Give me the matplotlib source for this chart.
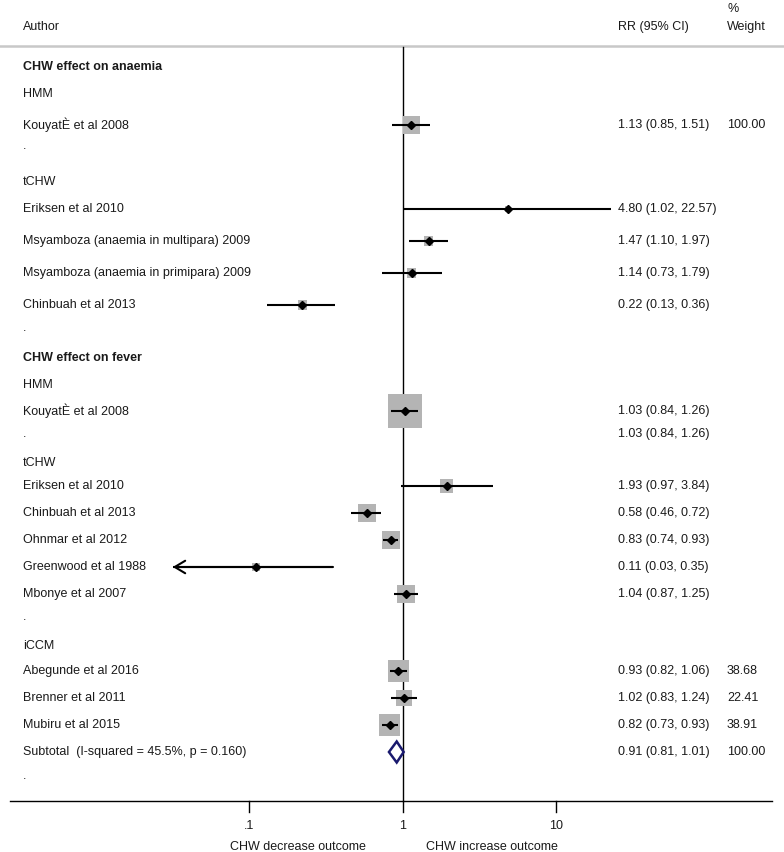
import numpy as np
import matplotlib.pyplot as plt

plt.rcParams['font.family'] = ['Liberation Sans', 'DejaVu Sans']

# study rows: label, RR, lower, upper
labels = ['KouyatÈ et al 2008', 'Eriksen et al 2010',
          'Msyamboza (anaemia in multipara) 2009',
          'Msyamboza (anaemia in primipara) 2009', 'Chinbuah et al 2013',
          'KouyatÈ et al 2008', 'Eriksen et al 2010', 'Chinbuah et al 2013',
          'Ohnmar et al 2012', 'Greenwood et al 1988', 'Mbonye et al 2007',
          'Abegunde et al 2016', 'Brenner et al 2011', 'Mubiru et al 2015']
rr = [1.13, 4.80, 1.47, 1.14, 0.22, 1.03, 1.93, 0.58, 0.83, 0.11, 1.04, 0.93, 1.02, 0.82]
lo = [0.85, 1.02, 1.10, 0.73, 0.13, 0.84, 0.97, 0.46, 0.74, 0.03, 0.87, 0.82, 0.83, 0.73]
hi = [1.51, 22.57, 1.97, 1.79, 0.36, 1.26, 3.84, 0.72, 0.93, 0.35, 1.25, 1.06, 1.24, 0.93]
weight_txt = ['100.00', '', '', '', '', '', '', '', '', '', '', '38.68', '22.41', '38.91']
# relative weights used for box area
box_wt = [25.3, 2.2, 7.1, 7.1, 7.1, 101, 14.8, 28.4, 28.4, 5.6, 28.4, 38.68, 22.41, 38.91]

# pooled iCCM subtotal
sub_label = 'Subtotal  (I-squared = 45.5%, p = 0.160)'
sub_rr, sub_lo, sub_hi = 0.91, 0.81, 1.01
sub_weight = '100.00'

# the HMM fever subgroup "." line repeats the estimate
hmm_sub_txt = '1.03 (0.84, 1.26)'

# text-only rows: (kind, text)
headers = [('bold', 'CHW effect on anaemia'), ('plain', 'HMM'), ('plain', '.'),
           ('plain', 'tCHW'), ('plain', '.'), ('bold', 'CHW effect on fever'),
           ('plain', 'HMM'), ('plain', '.'), ('plain', 'tCHW'), ('plain', '.'),
           ('plain', 'iCCM'), ('plain', '.')]

xticks = [0.1, 1, 10]
xtick_labels = ['.1', '1', '10']

# layout (pixel rows, top to bottom)
W, H = 784, 852
study_y = [125, 209, 241, 273, 305, 411, 486, 513, 540, 567, 594, 671, 698, 725]
header_y = [67, 94, 146, 182, 328, 358, 385, 434, 463, 617, 646, 776]
sub_y = 752
x0_px, dec_px = 403, 153.5


def fx(px):
    return px / W


fig = plt.figure(figsize=(W / 100, H / 100), dpi=100)
ax = fig.add_axes([0, 0, 1, 1])
ax.set_xscale('log')
ax.set_xlim(10 ** (-x0_px / dec_px), 10 ** ((W - x0_px) / dec_px))
ax.set_ylim(H, 0)
ax.axis('off')
tr = ax.get_yaxis_transform()  # x in axes fraction, y in data
tc = '#1a1a1a'
fs = 9

# column headers
ax.text(fx(728), 9, '%', transform=tr, fontsize=fs, color=tc, va='center')
ax.text(fx(23), 27, 'Author', transform=tr, fontsize=fs, color=tc, va='center')
ax.text(fx(618), 27, 'RR (95% CI)', transform=tr, fontsize=fs, color=tc, va='center')
ax.text(fx(727), 27, 'Weight', transform=tr, fontsize=fs, color=tc, va='center')
ax.plot([0, 1], [46, 46], transform=tr, color='#c8c8c8', lw=1.8)

# null line and x axis
ax.plot([1, 1], [47, 801], color='black', lw=1)
ax.plot([fx(10), fx(772)], [801, 801], transform=tr, color='black', lw=1)
for t, tl in zip(xticks, xtick_labels):
    ax.plot([t, t], [801, 812], color='black', lw=1)
    ax.text(t, 826, tl, ha='center', va='center', fontsize=fs, color=tc)
ax.text(fx(366), 847, 'CHW decrease outcome', transform=tr, ha='right',
        va='center', fontsize=fs, color=tc)
ax.text(fx(426), 847, 'CHW increase outcome', transform=tr, ha='left',
        va='center', fontsize=fs, color=tc)

# text rows
for (kind, txt), y in zip(headers, header_y):
    ax.text(fx(23), y, txt, transform=tr, fontsize=fs, color=tc, va='center',
            fontweight='bold' if kind == 'bold' else 'normal')
ax.text(fx(618), header_y[7], hmm_sub_txt, transform=tr, fontsize=fs,
        color=tc, va='center')

# studies
xmin_ci = 10 ** -1.5
for i, y in enumerate(study_y):
    side_px = 3.38 * np.sqrt(box_wt[i])
    ax.scatter([rr[i]], [y], marker='s', s=(side_px * 0.72) ** 2,
               color='#b4b4b4', edgecolors='none', zorder=2)
    left = max(lo[i], xmin_ci)
    ax.plot([left, hi[i]], [y, y], color='black', lw=1.5, zorder=3,
            solid_capstyle='butt')
    if lo[i] < xmin_ci:
        ax.annotate('', xy=(xmin_ci, y), xytext=(hi[i], y),
                    arrowprops=dict(arrowstyle='->,head_length=0.75,head_width=0.45',
                                    lw=1.5, color='black', shrinkA=0, shrinkB=0,
                                    mutation_scale=10), zorder=3)
    ax.plot([rr[i]], [y], marker='D', ms=4, color='black', zorder=4)
    ax.text(fx(23), y, labels[i], transform=tr, fontsize=fs, color=tc, va='center')
    ax.text(fx(618), y, f'{rr[i]:.2f} ({lo[i]:.2f}, {hi[i]:.2f})', transform=tr,
            fontsize=fs, color=tc, va='center')
    if weight_txt[i]:
        ax.text(fx(727), y, weight_txt[i], transform=tr, fontsize=fs,
                color=tc, va='center')

# subtotal diamond
ax.fill([sub_lo, sub_rr, sub_hi, sub_rr, sub_lo],
        [sub_y, sub_y - 10.5, sub_y, sub_y + 10.5, sub_y],
        facecolor='white', edgecolor='#1a1a6e', lw=1.8, zorder=4)
ax.text(fx(23), sub_y, sub_label, transform=tr, fontsize=fs, color=tc, va='center')
ax.text(fx(618), sub_y, f'{sub_rr:.2f} ({sub_lo:.2f}, {sub_hi:.2f})', transform=tr,
        fontsize=fs, color=tc, va='center')
ax.text(fx(727), sub_y, sub_weight, transform=tr, fontsize=fs, color=tc, va='center')

fig.savefig('out.png', dpi=100)
